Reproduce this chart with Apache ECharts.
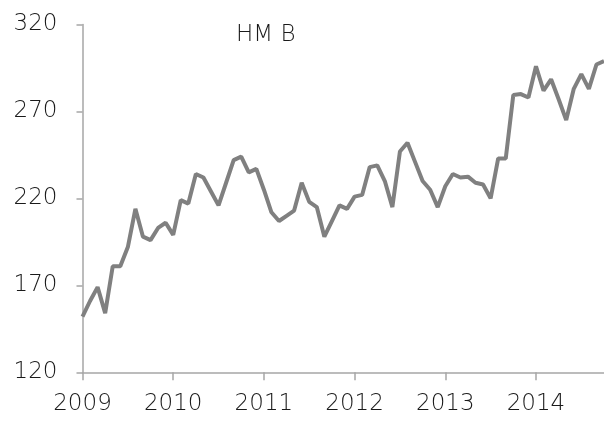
<!DOCTYPE html>
<html>
<head>
<meta charset="utf-8">
<script src="https://cdn.jsdelivr.net/npm/echarts@6/dist/echarts.min.js"></script>
<style>
html,body{margin:0;padding:0;background:#fff;}
#chart{width:604px;height:423px;}
</style>
</head>
<body>
<div id="chart"></div>
<script>
// Monthly series, Jan 2009 .. Oct 2014
var years = ['2009','2010','2011','2012','2013','2014'];
var monthsPerYear = 12;
var values2009 = [152, 161, 169, 154, 181, 181, 192, 214, 198, 196, 203, 206];
var values2010 = [199, 219, 217, 234, 232, 224, 216, 229, 242, 244, 235, 237];
var values2011 = [225, 212, 207, 210, 213, 229, 218, 215, 198, 207, 216, 214];
var values2012 = [221, 222, 238, 239, 230, 215, 247, 252, 241, 230, 225, 215];
var values2013 = [227, 234, 232, 232.5, 229, 228, 220, 243, 243, 279.5, 280, 278];
var values2014 = [296, 282, 288.5, 277, 265, 283, 291.5, 283, 297, 299];
var yTicks = [120, 170, 220, 270, 320];
var seriesName = 'HM B';

var values = [].concat(values2009, values2010, values2011, values2012, values2013, values2014);
var categories = [];
var allYears = [values2009, values2010, values2011, values2012, values2013, values2014];
allYears.forEach(function (arr, yi) {
  arr.forEach(function (v, mi) {
    categories.push(years[yi] + '-' + (mi + 1));
  });
});

var axisColor = '#a6a6a6';
var textColor = '#1a1a1a';
var fontFamily = 'DejaVu Sans';
var fontWeight = 200;

var chart = echarts.init(document.getElementById('chart'), null, {renderer: 'canvas'});
chart.setOption({
  animation: false,
  backgroundColor: '#ffffff',
  title: {
    text: seriesName,
    left: 231,
    top: 19,
    textStyle: {fontFamily: fontFamily, fontSize: 23, fontWeight: fontWeight, color: textColor}
  },
  grid: {left: 82.5, right: 0, top: 24.5, bottom: 50.7, containLabel: false},
  xAxis: {
    type: 'category',
    data: categories,
    boundaryGap: false,
    axisLine: {show: true, lineStyle: {color: axisColor, width: 1.5}},
    axisTick: {
      show: true, length: 8,
      interval: function (idx) { return idx % monthsPerYear === 0; },
      lineStyle: {color: axisColor, width: 1.5}
    },
    axisLabel: {
      interval: function (idx) { return idx % monthsPerYear === 0; },
      formatter: function (v) { return v.split('-')[0]; },
      margin: 20,
      fontFamily: fontFamily, fontSize: 23, fontWeight: fontWeight, color: textColor
    },
    splitLine: {show: false}
  },
  yAxis: {
    type: 'value',
    min: yTicks[0],
    max: yTicks[yTicks.length - 1],
    interval: yTicks[1] - yTicks[0],
    axisLine: {show: true, lineStyle: {color: axisColor, width: 1.5}},
    axisTick: {show: true, length: 6, lineStyle: {color: axisColor, width: 1.5}},
    axisLabel: {margin: 25, fontFamily: fontFamily, fontSize: 23, fontWeight: fontWeight, color: textColor},
    splitLine: {show: false}
  },
  series: [{
    name: seriesName,
    type: 'line',
    data: values,
    symbol: 'none',
    smooth: false,
    lineStyle: {color: '#808080', width: 4},
    clip: false
  }]
});
</script>
</body>
</html>
